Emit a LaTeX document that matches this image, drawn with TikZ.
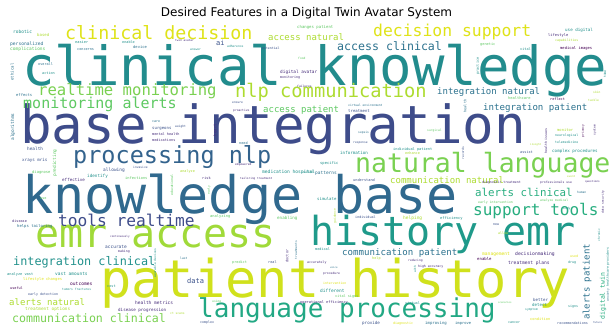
\documentclass[tikz,border=0pt]{standalone}
\usepackage{fontspec}
\newfontfamily\cloudfont{DejaVu Sans Mono}
\newfontfamily\titlefont{DejaVu Sans}

% viridis-like palette
\definecolor{vA}{HTML}{440154}
\definecolor{vB}{HTML}{472D7B}
\definecolor{vC}{HTML}{3B528B}
\definecolor{vD}{HTML}{2C728E}
\definecolor{vE}{HTML}{21918C}
\definecolor{vF}{HTML}{28AE80}
\definecolor{vG}{HTML}{5EC962}
\definecolor{vH}{HTML}{ADDC30}
\definecolor{vI}{HTML}{DFE318}
% colours of the large phrases
\definecolor{cKnow}{HTML}{228C8D}
\definecolor{cBase}{HTML}{3E4C8A}
\definecolor{cKb}{HTML}{30698E}
\definecolor{cPat}{HTML}{D0E11C}
\definecolor{cHist}{HTML}{1F9A8A}
\definecolor{cEmr}{HTML}{A0DA39}
\definecolor{cNat}{HTML}{7AD151}
\definecolor{cLang}{HTML}{22A884}
\definecolor{cProc}{HTML}{33638D}

\newcounter{wordno}
\tikzset{
  bigword/.style={inner sep=0pt, anchor=base west},
  smallword/.style={inner sep=0pt, anchor=west},
  upword/.style={inner sep=0pt, anchor=center, rotate=90},
}
% phrase with baseline-left corner at (x,y)
\newcommand\cw[5]{\stepcounter{wordno}%
  \node[bigword, text=#4, font=\cloudfont\fontsize{#3}{#3}\selectfont] (w\arabic{wordno}) at (#1,#2) {#5};}
% small word, left edge and middle height at (x,y)
\newcommand\cs[5]{\stepcounter{wordno}%
  \node[smallword, text=#4, font=\cloudfont\fontsize{#3}{#3}\selectfont] (w\arabic{wordno}) at (#1,#2) {#5};}
% word set upright, centred at (x,y)
\newcommand\cv[5]{\stepcounter{wordno}%
  \node[upword, text=#4, font=\cloudfont\fontsize{#3}{#3}\selectfont] (w\arabic{wordno}) at (#1,#2) {#5};}

\begin{document}
\begin{tikzpicture}[x=1pt, y=-1pt]
\fill[white] (0,0) rectangle (613,333);
\useasboundingbox (0,0) rectangle (613,333);

\node[font=\titlefont\fontsize{12}{12}\selectfont, inner sep=0pt] (title) at (306.5,13) {Desired Features in a Digital Twin Avatar System};

% ---- large phrases
\cw{22}{85}{54}{cKnow}{clinical knowledge}
\cw{20}{143}{52.5}{cBase}{base integration}
\cw{22}{213}{51.7}{cKb}{knowledge base}
\cw{100}{297}{52}{cPat}{patient history}
\cw{310}{245}{40}{cHist}{history emr}
\cw{35}{247}{40}{cEmr}{emr access}
\cw{355}{172}{26.5}{cNat}{natural language}
\cw{198}{317}{26}{cLang}{language processing}
\cw{73}{163}{23.5}{cProc}{processing nlp}
\cw{65}{39}{18.3}{vI}{clinical decision}
\cw{373}{36}{16.4}{vI}{decision support}
\cw{235}{97}{18.7}{vH}{nlp communication}
\cw{38}{95}{15.6}{cNat}{realtime monitoring}
\cw{23}{108}{15}{vG}{monitoring alerts}
\cw{473}{215}{16}{vF}{support tools}
\cw{58}{226}{16.2}{cBase}{tools realtime}

% ---- medium phrases
\cw{337}{50}{11.6}{vD}{access clinical}
\cw{268}{40}{9}{vH}{access natural}
\cw{263}{112}{9}{vG}{access patient}
\cw{437}{94}{9}{vD}{integration natural}
\cw{483}{110}{9.1}{vD}{integration patient}
\cw{475}{196}{10.8}{vF}{alerts clinical}
\cw{390}{183}{9}{vH}{communication natural}
\cw{13}{265}{11.8}{vE}{integration clinical}
\cw{342}{255}{9.1}{vD}{communication patient}
\cw{9}{305}{9}{vH}{alerts natural}
\cw{12}{322}{11.6}{cNat}{communication clinical}
\cw{187}{283}{7}{vC}{data}
\cw{216}{45}{7}{vC}{ai}
\cv{587}{282}{9}{vD}{alerts patient}
\cv{603}{296}{6.5}{vF}{digital twin}

% ---- small words, upper band
\cs{13}{32}{4.5}{vE}{robotic}
\cs{37}{35}{4}{vH}{based}
\cs{10}{44}{4.6}{vD}{personalized}
\cs{10}{49}{4.5}{vG}{complications}
\cs{75}{42}{3.6}{vE}{easier}
\cs{77}{50}{3.5}{vD}{concerns}
\cs{122}{42}{3.5}{vE}{enable}
\cs{133}{47}{3.8}{vD}{device}
\cs{38}{64}{3.5}{vD}{overall}
\cs{42}{73}{3.5}{vE}{action}
\cv{12}{72}{4}{vD}{ethical}
\cs{16}{95}{3.8}{vD}{effects}
\cs{175}{40}{2.8}{vB}{twin avatar}
\cs{190}{50}{3}{vE}{answer}
\cs{227}{46}{3}{vE}{adherence}
\cs{262}{49}{3.2}{vC}{potential}
\cs{297}{27}{4}{vG}{changes patient}
\cs{298}{58}{3}{vG}{food}
\cs{280}{72}{4.4}{vB}{digital avatar}
\cs{280}{78}{3.3}{vB}{monitoring}
\cs{297}{86}{3}{vB}{failures}
\cs{232}{103}{3}{vC}{ensure}
\cs{233}{111}{3}{vB}{proactive}
\cs{348}{105}{3}{vD}{virtual environment}
\cs{348}{111}{4}{vC}{treatment}
\cs{565}{30}{4.2}{vE}{use digital}
\cs{548}{35}{3.7}{vB}{lifestyle}
\cs{555}{41}{3.2}{vH}{capabilities}
\cs{480}{45}{3.6}{vG}{genetic}
\cs{520}{49}{3.5}{vE}{vital}
\cs{560}{48}{3.8}{vA}{medical images}
\cv{478}{66}{3.5}{vE}{practice}
\cv{605}{74}{3.3}{vE}{time}
\cs{593}{92}{3}{vH}{skin}
\cs{508}{98}{3.7}{vG}{healthcare}
\cs{550}{99}{3.5}{vA}{reflect}
\cs{588}{100}{3}{vH}{tackle}
\cv{465}{106}{3.5}{vD}{health}

% ---- small words, middle band
\cv{13}{127}{4.5}{vD}{algorithms}
\cs{27}{149}{4.4}{vC}{health}
\cs{22}{160}{4.2}{vC}{xrays mris}
\cv{55}{163}{4.5}{vG}{predicting}
\cs{32}{172}{3.8}{vG}{diagnose}
\cs{103}{170}{4.5}{vC}{allowing}
\cs{87}{176}{4.3}{vE}{identify}
\cs{62}{180}{4.2}{vB}{effective}
\cs{133}{167}{3}{vC}{invasive}
\cs{125}{178}{3.7}{vG}{infections}
\cs{40}{199}{3.5}{vG}{use}
\cs{12}{221}{3.5}{vB}{disease}
\cs{152}{122}{3.3}{vD}{care}
\cs{175}{127}{3}{vC}{weight}
\cs{152}{129}{4}{vC}{surgeons}
\cs{152}{134}{3.5}{vB}{mental health}
\cs{152}{140}{3.5}{vB}{medications}
\cv{215}{130}{4}{vB}{heart}
\cs{239}{143}{3.5}{vD}{need}
\cs{235}{165}{3}{vB}{empowered}
\cs{180}{172}{3.5}{vH}{analyze}
\cs{202}{178}{3.5}{vB}{risk}
\cs{240}{179}{2.8}{vB}{tailoring treatment}
\cs{262}{172}{4.6}{vE}{medication hospital}
\cv{172}{185}{3.3}{vG}{educational}
\cv{209}{190}{3}{vG}{early}
\cs{210}{216}{3.7}{vG}{analyzing}
\cs{277}{218}{4.2}{vG}{enabling}
\cs{358}{133}{3}{vD}{sepsis}
\cs{427}{131}{3}{vG}{surgical}
\cs{353}{143}{3}{vC}{response}
\cs{393}{149}{3.6}{vE}{individual patient}
\cs{340}{153}{4.2}{vE}{information}
\cs{405}{153}{3.5}{vH}{enhance}
\cs{320}{163}{3.8}{vE}{specific}
\cs{303}{172}{3.5}{vE}{vital}
\cs{315}{173}{4.5}{vD}{patterns}
\cs{353}{180}{3.6}{vC}{understand}
\cs{317}{199}{4}{vE}{simulate}
\cs{355}{217}{3.4}{vC}{individual}
\cs{403}{218}{4.5}{vH}{helping}
\cs{440}{218}{3.7}{vE}{efficiency}
\cv{335}{216}{3}{vH}{guidance}
\cs{557}{130}{3.8}{vH}{monitor}
\cs{555}{136}{3.2}{vE}{neurological}
\cs{555}{142}{3.2}{vE}{telemedicine}
\cv{583}{131}{3}{vA}{privacy}
\cv{595}{130}{3}{vB}{system}
\cv{546}{141}{3.3}{vB}{health issues}
\cs{530}{145}{2.6}{vH}{insight}
\cs{520}{152}{3.5}{vC}{assist}
\cs{552}{151}{4.2}{vE}{complex procedures}
\cv{463}{153}{3}{vC}{records}
\cs{482}{183}{3.2}{vB}{diagnostic treatment}
\cs{540}{183}{3.1}{vB}{professionals use}
\cs{585}{182}{2.7}{vB}{questions}
\cs{567}{177}{2.7}{vH}{event}
\cs{577}{192}{3}{vD}{human}
\cs{478}{203}{3.2}{vG}{early intervention}
\cs{540}{201}{3.1}{vG}{analyze medical}
\cs{563}{209}{3}{vE}{body}
\cv{603}{202}{3}{vB}{data security}

% ---- small words, lower band
\cs{17}{226}{3.9}{vD}{helps tailoring}
\cs{110}{237}{2.7}{vB}{continuously}
\cs{105}{247}{4.5}{vC}{accurate}
\cs{118}{252}{3.2}{vB}{making}
\cs{7}{274}{3.6}{vE}{analyze vast}
\cs{55}{274}{4.5}{vE}{vast amounts}
\cs{23}{279}{3.8}{vI}{lifestyle changes}
\cs{70}{284}{4.6}{vA}{outcomes}
\cs{10}{288}{3.5}{vA}{useful}
\cs{62}{289}{3}{vE}{tumors fractures}
\cs{107}{286}{3.5}{vE}{cost}
\cs{28}{295}{3.3}{vC}{early detection}
\cs{135}{303}{4.5}{vB}{health metrics}
\cs{25}{309}{4.4}{vH}{treatment options}
\cs{118}{310}{4.2}{vB}{disease progression}
\cs{180}{258}{3}{vD}{last}
\cs{232}{263}{3.5}{vG}{predict}
\cs{268}{262}{3.5}{vC}{real}
\cv{287}{256}{3.5}{vB}{doctor}
\cv{296}{250}{3}{vD}{treatments}
\cv{155}{263}{3}{vE}{wearable devices}
\cs{212}{302}{3}{vG}{using}
\cs{170}{313}{3}{vH}{ct scans}
\cs{200}{323}{3.3}{vC}{complex}
\cs{315}{249}{3.5}{vE}{medical}
\cs{372}{259}{3.5}{vH}{help}
\cs{408}{261}{3}{vB}{reducing}
\cs{307}{263}{3.2}{vB}{accurately}
\cs{418}{267}{3.2}{vB}{high accuracy}
\cv{415}{269}{3}{vE}{with}
\cs{330}{268}{2.5}{vD}{voice}
\cs{323}{274}{3.1}{vB}{procedure}
\cs{323}{283}{3.2}{vI}{intervention}
\cs{320}{291}{4.5}{vE}{different}
\cs{335}{297}{3.5}{vG}{vital signs}
\cs{300}{302}{3.6}{vB}{operational efficiency}
\cs{405}{303}{3.5}{vE}{virtual}
\cs{362}{323}{4.2}{vC}{provide}
\cs{393}{324}{3.3}{vI}{diagnostic}
\cs{425}{323}{4}{vD}{improving}
\cs{455}{323}{3.8}{vD}{improve}
\cs{493}{225}{3.3}{vC}{new}
\cs{498}{233}{3.3}{vH}{allow}
\cs{482}{254}{4.6}{vI}{management}
\cs{515}{254}{4.7}{vB}{decisionmaking}
\cs{477}{259}{4}{vA}{enable}
\cs{508}{263}{4.6}{vB}{treatment plans}
\cs{570}{256}{3.3}{vI}{used}
\cs{568}{263}{3.3}{vE}{drug}
\cv{599}{235}{3}{vE}{chronic}
\cv{608}{267}{3.3}{vE}{healthcare providers}
\cv{608}{295}{3}{vD}{anxiety}
\cs{498}{303}{2.5}{vG}{scenarios}
\cs{533}{300}{4.1}{vC}{better}
\cs{532}{305}{4.1}{vE}{detect}
\cs{525}{310}{3}{vE}{symptom}
\cs{568}{307}{3.3}{vE}{signs}
\cs{530}{319}{3.7}{vI}{condition}
\cs{508}{323}{3.3}{vE}{cancer}
\cs{557}{323}{3.4}{vC}{recommendations}
\cs{593}{323}{2.5}{vC}{future}
\end{tikzpicture}
\end{document}
